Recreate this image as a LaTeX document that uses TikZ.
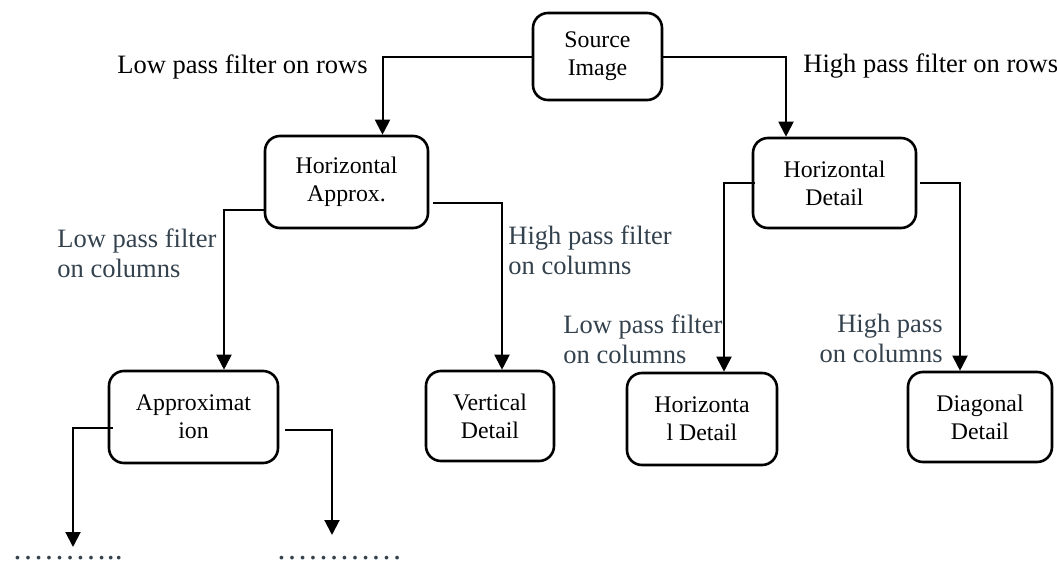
\documentclass[tikz,border=0pt]{standalone}
\usepackage{fontspec}
\setmainfont{Liberation Serif}
\usepackage{tikz}
\usetikzlibrary{arrows.meta}
\usetikzlibrary{calc}
\definecolor{labelgray}{RGB}{52,66,78}

\begin{document}
\begin{tikzpicture}[x=0.5pt,y=-0.5pt,
        box/.style={draw,line width=1.3pt,rounded corners=7.5pt,inner sep=0pt,align=center,
            font=\fontsize{11.9pt}{14pt}\selectfont},
        conn/.style={line width=1pt,-{Triangle[width=7.5pt,length=7.5pt]}},
        lbl/.style={inner sep=0pt,font=\fontsize{13.25pt}{15pt}\selectfont}]
            \useasboundingbox (0,0) rectangle (1057,563);
            % boxes
            \node[box,minimum width=64.5pt,minimum height=43.5pt] (src) at (597.5,56.5) {Source\\Image};
            \node[box,minimum width=81.5pt,minimum height=46pt] (hApp) at (346.5,182) {Horizontal\\Approx.};
            \node[box,minimum width=81.5pt,minimum height=45pt] (hDet) at (834.5,183) {Horizontal\\Detail};
            \node[box,minimum width=84.5pt,minimum height=46pt] (appr) at (193.5,417) {Approximat\\ion};
            \node[box,minimum width=64pt,minimum height=45pt] (vert) at (490,416) {Vertical\\Detail};
            \node[box,minimum width=75pt,minimum height=46pt] (hor) at (702,419) {Horizonta\\l Detail};
            \node[box,minimum width=72pt,minimum height=45pt] (diag) at (980,417) {Diagonal\\Detail};
            % labels
            \node[lbl,anchor=base east] (rowL) at (368,73) {Low pass filter on rows};
            \node[lbl,anchor=base west] (rowH) at (803,72) {High pass filter on rows};
            \node[lbl,text=labelgray,anchor=north west,align=left] (colL) at (57,228) {Low pass filter\\on columns};
            \node[lbl,text=labelgray,anchor=north west,align=left] (colH) at (508,225) {High pass filter\\on columns};
            \node[lbl,text=labelgray,anchor=north west,align=left] (colLd) at (563,314) {Low pass filter\\on columns};
            \node[lbl,text=labelgray,anchor=north east,align=right] (colHd) at (943,314) {High pass\\on columns};
            % loose ends
            \coordinate (endL) at (73,547);
            \coordinate (endR) at (332,535);
            \node[inner sep=0pt,text=labelgray,font=\fontsize{15.75pt}{16pt}\selectfont,anchor=base west] (dotsL) at (12,559) {………..};
            \node[inner sep=0pt,text=labelgray,font=\fontsize{15.75pt}{16pt}\selectfont,anchor=base west] (dotsR) at (276,559) {…………};
            % connectors
            \draw[conn] (src.west) -| ([xshift=18pt]hApp.north);
            \draw[conn] (src.east) -| ([xshift=-24.25pt]hDet.north);
            \draw[conn] ([yshift=-14pt]hApp.west) -| ([xshift=15.25pt]appr.north);
            \draw[conn] ([shift={(2pt,-10.5pt)}]hApp.east) -| ([xshift=6pt]vert.north);
            \draw[conn] ([xshift=1.5pt]hDet.west) -| ([xshift=11pt]hor.north);
            \draw[conn] ([xshift=1.5pt]hDet.east) -| ([xshift=-10pt]diag.north);
            \draw[conn] ([shift={(2.5pt,-5.5pt)}]appr.west) -| (endL);
            \draw[conn] ([shift={(3pt,-6.5pt)}]appr.east) -| (endR);
        \end{tikzpicture}
\end{document}
